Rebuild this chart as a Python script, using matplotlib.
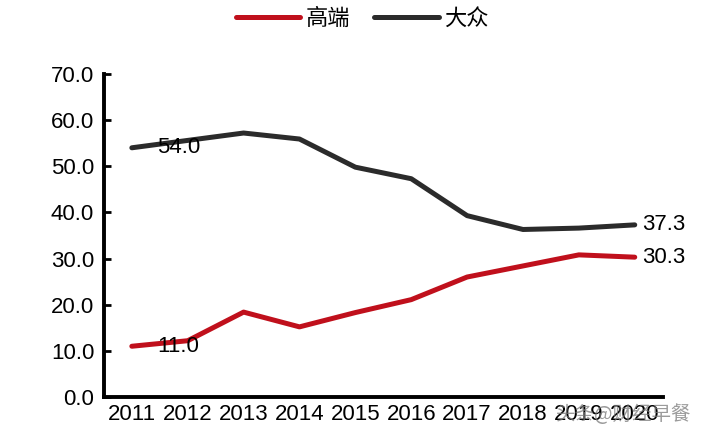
import matplotlib
matplotlib.use("Agg")
import matplotlib.pyplot as plt
import numpy as np

plt.rcParams['font.family'] = ['Liberation Sans', 'Noto Sans CJK SC', 'DejaVu Sans']

years = ['2011', '2012', '2013', '2014', '2015', '2016', '2017', '2018', '2019', '2020']
high_end = [11.0, 12.2, 18.4, 15.2, 18.3, 21.1, 26.0, 28.4, 30.8, 30.3]
mass = [54.0, 55.6, 57.2, 55.9, 49.8, 47.3, 39.3, 36.3, 36.6, 37.3]
yticks = [0, 10, 20, 30, 40, 50, 60, 70]

red = '#C0101C'
dark = '#2B2B2B'

fig = plt.figure(figsize=(7.02, 4.36), dpi=100)
ax = fig.add_axes([0.148, 0.0894, 0.796, 0.741])

x = np.arange(len(years))
ax.plot(x, high_end, color=red, lw=3.6, solid_capstyle='round', label='高端')
ax.plot(x, mass, color=dark, lw=3.6, solid_capstyle='round', label='大众')

ax.set_xlim(-0.5, len(years) - 0.5)
ax.set_ylim(0, 70)
ax.set_xticks(x)
ax.set_xticklabels(years, fontsize=16)
ax.set_yticks(yticks)
ax.set_yticklabels([f'{v:.1f}' for v in yticks], fontsize=16)
ax.tick_params(axis='y', direction='in', length=5, width=2, pad=7)
ax.tick_params(axis='x', length=0, pad=5)

for side in ['top', 'right']:
    ax.spines[side].set_visible(False)
for side in ['left', 'bottom']:
    ax.spines[side].set_linewidth(2.8)

# first / last value labels
ax.annotate(f'{mass[0]:.1f}', (x[0], mass[0]), xytext=(18, 0), textcoords='offset points',
            va='center', ha='left', fontsize=16)
ax.annotate(f'{high_end[0]:.1f}', (x[0], high_end[0]), xytext=(18, 0), textcoords='offset points',
            va='center', ha='left', fontsize=16)
ax.annotate(f'{mass[-1]:.1f}', (x[-1], mass[-1]), xytext=(5, 0), textcoords='offset points',
            va='center', ha='left', fontsize=16)
ax.annotate(f'{high_end[-1]:.1f}', (x[-1], high_end[-1]), xytext=(5, 0), textcoords='offset points',
            va='center', ha='left', fontsize=16)

fig.legend(loc='center', bbox_to_anchor=(0.516, 0.958), ncol=2, frameon=False,
           handlelength=2.9, handletextpad=0.25, columnspacing=1.1,
           prop={'family': ['Noto Sans CJK SC'], 'size': 16})

# watermark
fig.text(0.985, 0.05, '头条@财经早餐', ha='right', va='center', fontsize=14,
         color='#7A7A7A', alpha=0.75, family=['Noto Sans CJK SC'])

fig.savefig('out.png', dpi=100)
